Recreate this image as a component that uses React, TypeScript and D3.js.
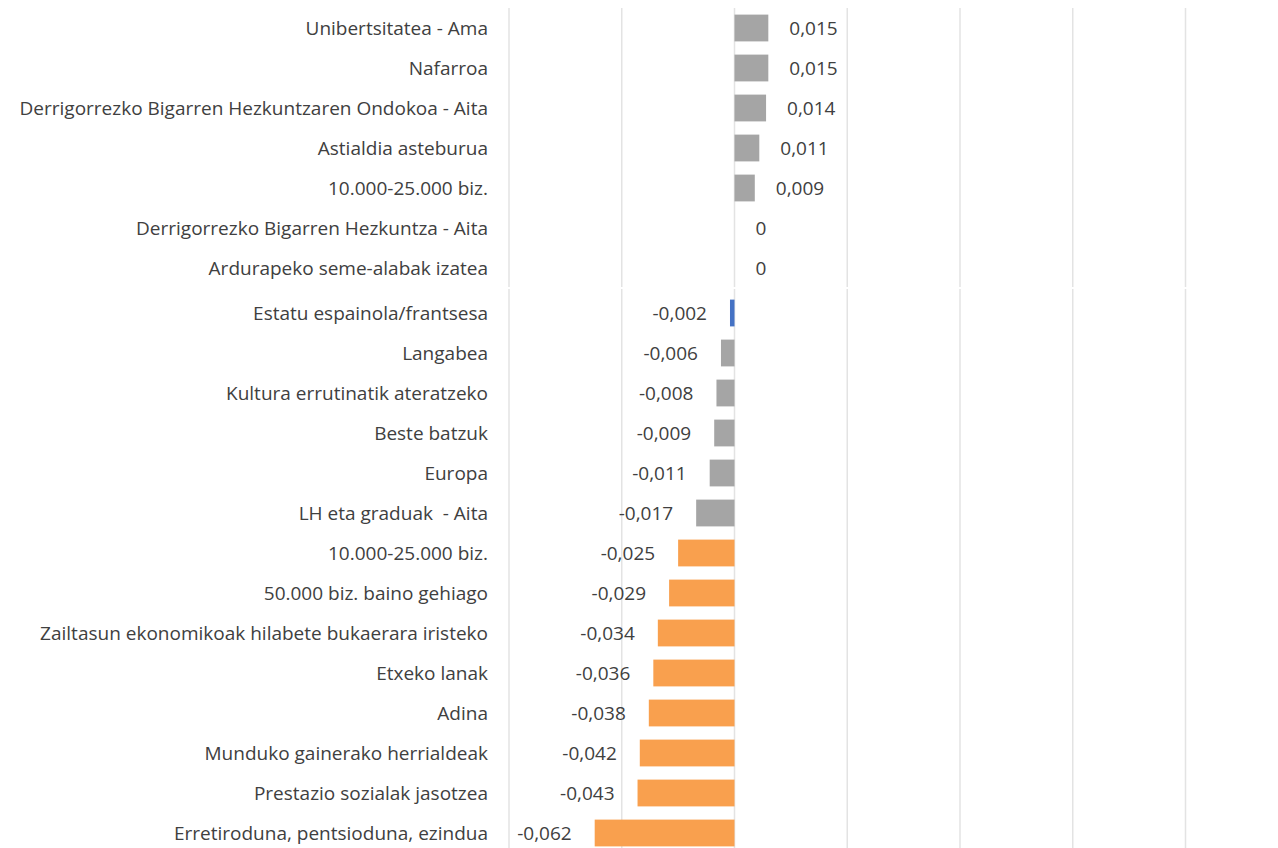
import React from "react";
import * as d3 from "d3";

const topCategories = [
  "Unibertsitatea - Ama",
  "Nafarroa",
  "Derrigorrezko Bigarren Hezkuntzaren Ondokoa - Aita",
  "Astialdia asteburua",
  "10.000-25.000 biz.",
  "Derrigorrezko Bigarren Hezkuntza - Aita",
  "Ardurapeko seme-alabak izatea",
];
const topValues = [0.015, 0.015, 0.014, 0.011, 0.009, 0, 0];
const topLabels = ["0,015", "0,015", "0,014", "0,011", "0,009", "0", "0"];

const bottomCategories = [
  "Estatu espainola/frantsesa",
  "Langabea",
  "Kultura errutinatik ateratzeko",
  "Beste batzuk",
  "Europa",
  "LH eta graduak  - Aita",
  "10.000-25.000 biz.",
  "50.000 biz. baino gehiago",
  "Zailtasun ekonomikoak hilabete bukaerara iristeko",
  "Etxeko lanak",
  "Adina",
  "Munduko gainerako herrialdeak",
  "Prestazio sozialak jasotzea",
  "Erretiroduna, pentsioduna, ezindua",
];
const bottomValues = [
  -0.002, -0.006, -0.008, -0.009, -0.011, -0.017, -0.025, -0.029, -0.034,
  -0.036, -0.038, -0.042, -0.043, -0.062,
];
const bottomLabels = [
  "-0,002", "-0,006", "-0,008", "-0,009", "-0,011", "-0,017", "-0,025",
  "-0,029", "-0,034", "-0,036", "-0,038", "-0,042", "-0,043", "-0,062",
];
const bottomGroups = [
  "blue", "gray", "gray", "gray", "gray", "gray", "orange", "orange",
  "orange", "orange", "orange", "orange", "orange", "orange",
];
const gridTicks = [-0.1, -0.05, 0, 0.05, 0.1, 0.15, 0.2];

const W = 1278;
const H = 848;
const colors: Record<string, string> = {
  gray: "#A5A5A5",
  orange: "#F9A04E",
  blue: "#4472C4",
};
const FONT = "'Open Sans', sans-serif";
const FS = 19;
const TXT = "#404040";

export default function App() {
  const x = d3.scaleLinear().domain([-0.1, 0.2]).range([509, 1185.5]);
  const yTop = d3
    .scaleBand<string>()
    .domain(topCategories.map((c, i) => i + ""))
    .range([8, 288])
    .paddingInner(0.33)
    .paddingOuter(0.165);
  const yBot = d3
    .scaleBand<string>()
    .domain(bottomCategories.map((c, i) => i + ""))
    .range([293, 853])
    .paddingInner(0.33)
    .paddingOuter(0.165);
  const x0 = x(0);
  const labelX = 488;

  return (
    <svg
      width={W}
      height={H}
      style={{ position: "absolute", left: 0, top: 0, background: "#fff" }}
      fontFamily={FONT}
    >
      <rect x={0} y={0} width={W} height={H} fill="#fff" />
      {gridTicks.map((t) => (
        <g key={t}>
          <line x1={x(t)} x2={x(t)} y1={8} y2={287} stroke="#E3E3E3" strokeWidth={1.5} />
          <line x1={x(t)} x2={x(t)} y1={289} y2={H} stroke="#E3E3E3" strokeWidth={1.5} />
        </g>
      ))}
      {topCategories.map((c, i) => {
        const v = topValues[i];
        const y0 = yTop(i + "")!;
        const bw = yTop.bandwidth();
        const cy = y0 + bw / 2;
        return (
          <g key={"t" + i}>
            {v !== 0 && (
              <rect x={x0} y={y0} width={x(v) - x0} height={bw} fill={colors.gray} />
            )}
            <text x={labelX} y={cy} textAnchor="end" dominantBaseline="central" fontSize={FS} fill={TXT} style={{ whiteSpace: "pre" }}>
              {c}
            </text>
            <text x={x(v) + 21} y={cy} textAnchor="start" dominantBaseline="central" fontSize={FS} fill={TXT}>
              {topLabels[i]}
            </text>
          </g>
        );
      })}
      {bottomCategories.map((c, i) => {
        const v = bottomValues[i];
        const y0 = yBot(i + "")!;
        const bw = yBot.bandwidth();
        const cy = y0 + bw / 2;
        return (
          <g key={"b" + i}>
            <rect x={x(v)} y={y0} width={x0 - x(v)} height={bw} fill={colors[bottomGroups[i]]} />
            <text x={labelX} y={cy} textAnchor="end" dominantBaseline="central" fontSize={FS} fill={TXT} style={{ whiteSpace: "pre" }}>
              {c}
            </text>
            <text x={x(v) - 23} y={cy} textAnchor="end" dominantBaseline="central" fontSize={FS} fill={TXT}>
              {bottomLabels[i]}
            </text>
          </g>
        );
      })}
    </svg>
  );
}
